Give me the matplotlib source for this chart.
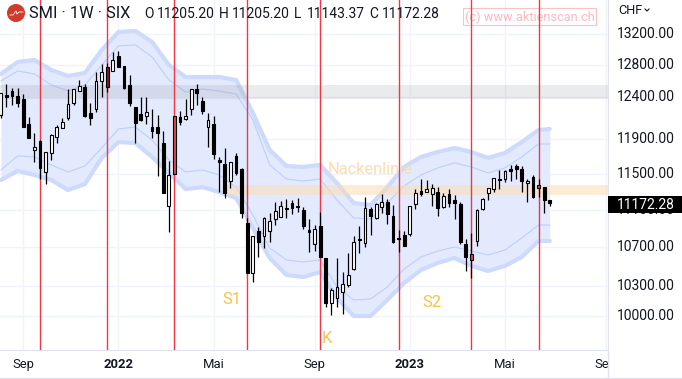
import matplotlib
matplotlib.use('Agg')
import matplotlib.pyplot as plt
from matplotlib.patches import Circle, Rectangle

plt.rcParams['font.family'] = ['Roboto', 'DejaVu Sans']

# weekly candles
opens = [12188,12430,12479,12418,12381,12080,11775,11879,11523,11741,11927,12033,12152,12332,12479,12528,
         12212,12260,12603,12777,12727,12917,12790,12553,12284,12200,12176,12045,12045,11856,11143,12176,
         12164,12140,12260,12503,12357,12045,12080,11660,11614,11421,11706,11557,10959,10432,10872,10820,
         10872,11002,11024,11121,11176,11143,11100,10883,10735,10926,10587,10129,10179,10239,10310,10473,
         10788,10745,11110,11013,11132,11187,11035,10798,10830,10841,11165,11309,11298,11276,11298,11132,
         11276,11209,11165,10735,10567,10766,11110,11287,11331,11432,11443,11557,11592,11557,11398,11466,
         11342,11353,11205.20]
highs = [12454,12565,12516,12516,12442,12164,11974,11891,11752,11962,12068,12152,12503,12503,12615,12565,
         12332,12714,12815,12828,12968,12980,12790,12677,12284,12405,12405,12260,12188,11997,11649,12176,
         12236,12381,12503,12565,12405,12212,12176,11695,11798,11637,11741,11569,11013,10820,10915,11024,
         11067,11187,11198,11220,11209,11231,11132,11002,10937,11078,10587,10279,10587,10442,10640,10820,
         10926,11242,11132,11176,11276,11220,11154,10883,10872,11143,11331,11443,11432,11387,11353,11287,
         11331,11265,11187,10788,10851,11110,11231,11342,11455,11546,11546,11603,11614,11592,11443,11489,
         11443,11353,11205.20]
lows = [12152,12284,12308,12284,12045,11915,11637,11443,11387,11660,11856,12033,12128,12308,12479,12164,
        12068,12224,12405,12466,12727,12777,12503,12296,11856,12116,12080,11915,11478,11287,10862,11500,
        12068,12128,12188,12308,12200,11810,11672,11298,11231,11342,11489,11013,10432,10340,10598,10692,
        10756,10937,11024,11013,11056,11078,10894,10650,10660,10598,10089,10009,10089,10019,10290,10463,
        10640,10703,10830,11002,11067,10948,10745,10650,10713,10820,11110,11253,11298,11143,11035,11121,
        11132,11002,10735,10453,10381,10713,11100,11209,11298,11331,11409,11421,11443,11298,11187,11231,
        11242,11067,11143.37]
closes = [12454,12405,12418,12332,12045,11915,11810,11569,11752,11950,12045,12104,12320,12503,12541,12176,
          12152,12603,12714,12528,12866,12777,12516,12332,12092,12128,12224,11997,11974,11287,11489,11500,
          12104,12176,12503,12454,12236,12128,11729,11637,11287,11637,11512,11067,10432,10820,10756,11013,
          10980,11089,11143,11110,11121,11132,10926,10862,10894,10598,10129,10259,10290,10320,10412,10756,
          10777,11121,11035,11165,11187,11056,10756,10788,10713,11143,11287,11276,11331,11342,11121,11253,
          11176,11176,10756,10598,10629,11100,11220,11342,11455,11430,11535,11535,11557,11421,11421,11242,
          11376,11209,11172.28]

# indicator band, one reading every third week
band_weeks = [0,3,6,9,12,15,18,21,24,27,30,33,36,39,42,45,48,51,54,57,60,63,66,69,72,75,78,81,84,87,90,93,96,98]
upper_outer = [12690,12841,12866,12739,12665,12702,12993,13225,13238,13096,12802,12652,12652,12652,12615,12212,11775,
               11591,11580,11603,11398,11176,11154,11353,11580,11694,11752,11798,11752,11683,11741,11867,12009,12021]
upper_inner = [12603,12727,12690,12553,12479,12553,12802,13045,13058,12904,12615,12466,12503,12479,12442,12128,11603,
               11443,11421,11443,11209,11013,11002,11176,11365,11489,11569,11626,11580,11512,11569,11694,11845,11845]
lower_inner = [11546,11706,11694,11603,11523,11591,11798,12021,12045,11891,11660,11523,11546,11489,11353,11045,10692,
               10567,10546,10567,10290,10159,10169,10290,10473,10598,10660,10703,10660,10619,10671,10798,10937,10937]
lower_outer = [11432,11535,11489,11432,11320,11387,11683,11867,11856,11694,11512,11331,11353,11298,11231,10904,10587,
               10412,10391,10442,10179,10000,10000,10159,10330,10463,10536,10587,10505,10453,10505,10598,10766,10766]

signal_weeks = [7, 19, 31, 44, 57, 71, 84, 96]
red_candles = [19, 31, 84, 96]
date_ticks = [4, 21, 38, 56, 73, 90, 108]
date_labels = ['Sep', '2022', 'Mai', 'Sep', '2023', 'Mai', 'Sep']
price_ticks = [13200, 12800, 12400, 11900, 11500, 11100, 10700, 10300, 10000]
ohlc_labels = ['O', 'H', 'L', 'C']

text_col = '#131722'
line_col = '#e0e3eb'
grid_col = '#f0f3fa'

fig = plt.figure(figsize=(6.82, 3.79), dpi=100)
ax = fig.add_axes([0, 29 / 379, 608 / 682, 350 / 379])
ax.set_yscale('log')
ax.set_xlim(-0.16, 108.41)
ax.set_ylim(9671, 13648)

ax.set_yticks(price_ticks)
ax.set_yticklabels([])
ax.minorticks_off()
ax.set_xticks(date_ticks)
ax.set_xticklabels(date_labels, fontsize=9.4, color=text_col)
for lbl in ax.get_xticklabels():
    if lbl.get_text().startswith('20'):
        lbl.set_fontweight('bold')
ax.tick_params(length=0, pad=6)
ax.grid(True, color=grid_col, lw=1)
ax.set_axisbelow(True)
for name in ['top', 'left', 'right']:
    ax.spines[name].set_visible(False)
ax.spines['bottom'].set_color(line_col)

# band
ax.fill_between(band_weeks, lower_outer, upper_outer, color='#e3eafd', lw=0, zorder=1)
ax.plot(band_weeks, upper_outer, color='#cddafc', lw=3, zorder=2, solid_capstyle='round')
ax.plot(band_weeks, lower_outer, color='#cddafc', lw=3, zorder=2, solid_capstyle='round')
ax.plot(band_weeks, upper_inner, color='#bccffb', lw=0.8, zorder=2)
ax.plot(band_weeks, lower_inner, color='#bccffb', lw=0.8, zorder=2)

# resistance zones
ax.axhspan(12387, 12553, color='#787b86', alpha=0.15, lw=0, zorder=3)
ax.axhspan(11265, 11376, xmin=0.37, color='#fbdcb4', alpha=0.55, lw=0, zorder=3)

for w in signal_weeks:
    ax.axvline(w, color='#f23645', lw=1, zorder=4)

# candles
for i in range(len(opens)):
    up = closes[i] >= opens[i]
    body_low = min(opens[i], closes[i])
    body_high = max(opens[i], closes[i])
    ax.vlines(i, lows[i], highs[i], color='black', lw=0.9, zorder=5)
    if i in red_candles:
        fill = '#e2474f' if i != 19 else '#7a1f24'
    else:
        fill = 'white' if up else 'black'
    ax.bar(i, max(body_high - body_low, 8), bottom=body_low, width=0.5, facecolor=fill,
           edgecolor='black', lw=0.8, zorder=6)

ax.text(58.4, 11546, 'Nackenlinie', fontsize=11.8, color='#fcdcae', va='center', ha='left', zorder=7)
ax.text(41.3, 10159, 'S1', fontsize=12, color='#fbc14a', va='center', ha='center', zorder=7)
ax.text(58.2, 9783, 'K', fontsize=12, color='#fbc14a', va='center', ha='center', zorder=7)
ax.text(77, 10129, 'S2', fontsize=12, color='#fbc14a', va='center', ha='center', zorder=7)

# price scale
ax_r = fig.add_axes([608 / 682, 29 / 379, 74 / 682, 350 / 379], zorder=2)
ax_r.set_yscale('log')
ax_r.set_xlim(0, 74)
ax_r.set_ylim(9671, 13648)
ax_r.set_xticks([])
ax_r.set_yticks([])
ax_r.minorticks_off()
for name in ['top', 'right']:
    ax_r.spines[name].set_visible(False)
ax_r.spines['left'].set_color(line_col)
ax_r.spines['bottom'].set_color(line_col)
for p in price_ticks:
    ax_r.text(9, p, f'{p:.2f}', fontsize=10, color=text_col, va='center', ha='left')
last = closes[-1]
ax_r.axhspan(last * 0.9905, last * 1.0072, color='black', lw=0, zorder=3)
ax_r.text(9, last * 0.9985, f'{last:.2f}', fontsize=10, color='white', va='center', ha='left', zorder=4)

# header, watermark and frame in pixel space
top = fig.add_axes([0, 0, 1, 1], zorder=3)
top.set_xlim(0, 682)
top.set_ylim(379, 0)
top.axis('off')
top.add_patch(Rectangle((608, 350), 74, 29, fc='white', ec='none'))
top.plot([608, 608], [350, 378], color=line_col, lw=1)
top.plot([0, 682], [378, 378], color=line_col, lw=1)
top.add_patch(Circle((16, 13), 9, fc='#d23a2a', ec='none'))
top.plot([10, 13, 16, 17, 19, 23], [15, 15, 11, 14, 12, 12], color='white', lw=0.6)
top.text(29, 13, 'SMI · 1W · SIX', fontsize=11.8, color=text_col, va='center', ha='left')
ohlc_values = [opens[-1], highs[-1], lows[-1], closes[-1]]
for k, (name, val) in enumerate(zip(ohlc_labels, ohlc_values)):
    top.text(144 + 75 * k, 14, name, fontsize=10, color=text_col, va='center', ha='left')
    top.text(157 + 75 * k, 14, f'{val:.2f}', fontsize=10, color=text_col, va='center', ha='left')
top.add_patch(Rectangle((463, 8), 133, 17, fc='none', ec='#f23645', lw=0.8, alpha=0.3))
top.text(529.5, 17, '(c) www.aktienscan.ch', fontsize=9.2, color='#f23645', alpha=0.35, va='center', ha='center')
top.text(618, 10, 'CHF', fontsize=9.2, color=text_col, va='center', ha='left')
top.plot([645, 647, 649], [9, 11, 9], color=text_col, lw=0.8)

fig.savefig('out.png', dpi=100)
